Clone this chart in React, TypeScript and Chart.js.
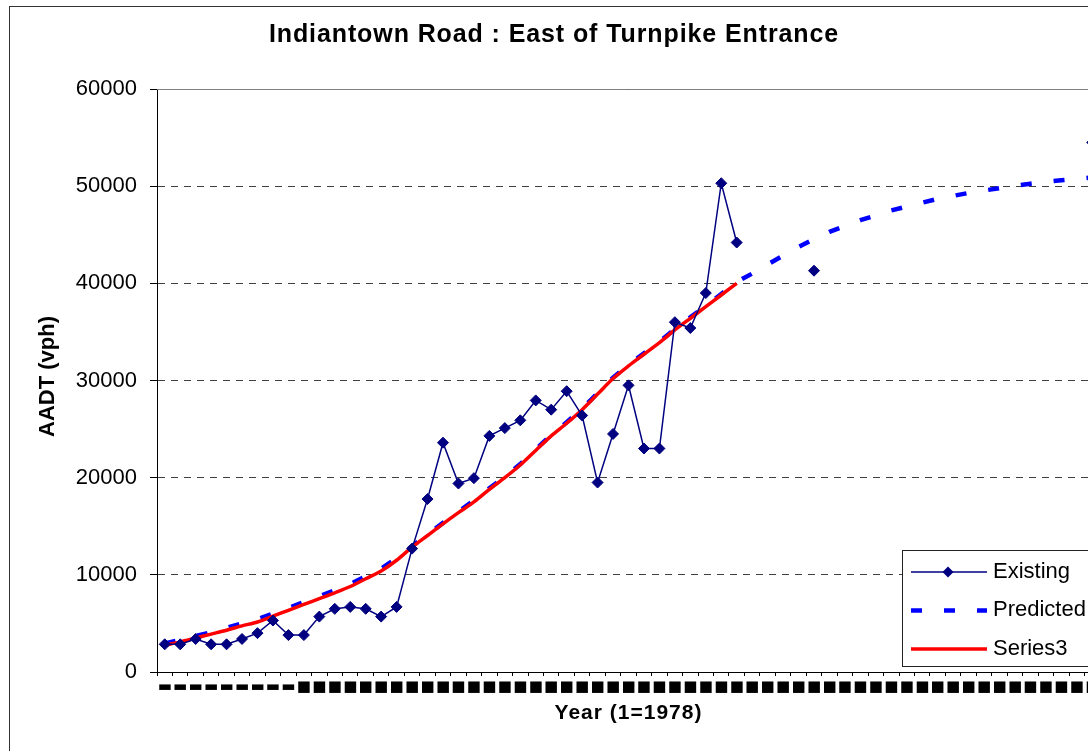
import React, { useEffect, useRef } from "react";
import { Chart, registerables } from "chart.js";

Chart.register(...registerables);

const TITLE = "Indiantown Road : East of Turnpike Entrance";
const X_TITLE = "Year (1=1978)";
const Y_TITLE = "AADT (vph)";

const years = [
  1, 2, 3, 4, 5, 6, 7, 8, 9, 10, 11, 12, 13, 14, 15, 16, 17, 18, 19, 20,
  21, 22, 23, 24, 25, 26, 27, 28, 29, 30, 31, 32, 33, 34, 35, 36, 37, 38, 39, 40,
  41, 42, 43, 44, 45, 46, 47, 48, 49, 50, 51, 52, 53, 54, 55, 56, 57, 58, 59, 60,
  61,
];

const existing = [
  2850, 2850, 3400, 2850, 2850, 3400, 4000, 5300, 3800, 3800,
  5700, 6500, 6700, 6500, 5700, 6700, 12700, 17800, 23600, 19400,
  19950, 24300, 25100, 25900, 27950, 27000, 28900, 26400, 19500, 24500,
  29500, 23000, 23000, 36000, 35400, 39000, 50300, 44200, null, null,
  null, null, 41300, null, null, null, null, null, null, null,
  null, null, null, null, null, null, null, null, null, null,
  54500,
];

const predicted = [
  2950, 3300, 3700, 4100, 4550, 5000, 5450, 6000, 6600, 7200,
  7800, 8400, 9050, 9850, 10650, 11700, 12950, 14150, 15350, 16500,
  17650, 18900, 20100, 21400, 22900, 24400, 25700, 27100, 28700, 30300,
  31600, 32800, 34000, 35300, 36500, 37700, 38900, 40150, 41000, 41950,
  42850, 43750, 44550, 45300, 45900, 46500, 47000, 47500, 47900, 48300,
  48700, 49000, 49300, 49550, 49800, 50050, 50250, 50450, 50600, 50750,
  50900,
];

const series3 = [
  2750, 3100, 3500, 3900, 4300, 4750, 5150, 5750, 6350, 6950,
  7550, 8150, 8800, 9600, 10400, 11500, 12850, 14050, 15250, 16400,
  17500, 18800, 20000, 21300, 22800, 24300, 25600, 27000, 28600, 30200,
  31500, 32700, 33900, 35200, 36400, 37600, 38800, 40000, null, null,
  null, null, null, null, null, null, null, null, null, null,
  null, null, null, null, null, null, null, null, null, null,
  null,
];

const Y_MIN = 0;
const Y_MAX = 60000;
const Y_STEP = 10000;

const FONT = '"Liberation Sans", Arial, Helvetica, sans-serif';

function drawSpaced(
  ctx: CanvasRenderingContext2D,
  text: string,
  cx: number,
  y: number,
  font: string,
  spacing: number
) {
  ctx.font = font;
  (ctx as any).letterSpacing = spacing + "px";
  const w = ctx.measureText(text).width;
  ctx.textAlign = "left";
  ctx.textBaseline = "alphabetic";
  ctx.fillText(text, cx - w / 2, y);
}

const decorPlugin = {
  id: "decor",
  beforeDraw(chart: any) {
    const ctx = chart.ctx as CanvasRenderingContext2D;
    ctx.save();
    ctx.fillStyle = "#ffffff";
    ctx.fillRect(0, 0, chart.width, chart.height);
    ctx.restore();
  },
  afterDraw(chart: any) {
    const ctx = chart.ctx as CanvasRenderingContext2D;
    const area = chart.chartArea;
    ctx.save();
    // plot area top border
    ctx.strokeStyle = "#808080";
    ctx.lineWidth = 1;
    ctx.setLineDash([]);
    ctx.beginPath();
    ctx.moveTo(area.left, Math.floor(area.top) + 0.5);
    ctx.lineTo(area.right, Math.floor(area.top) + 0.5);
    ctx.stroke();

    // outer chart border
    ctx.strokeStyle = "#333333";
    ctx.strokeRect(9.5, 6.5, 1092, 800);

    // titles
    ctx.fillStyle = "#000000";
    drawSpaced(ctx, TITLE, 554, 42.3, "bold 25px " + FONT, 0.9);
    drawSpaced(ctx, X_TITLE, (area.left + area.right) / 2, 719.3, "bold 21px " + FONT, 1.0);

    ctx.save();
    ctx.translate(54, 376.5);
    ctx.rotate(-Math.PI / 2);
    drawSpaced(ctx, Y_TITLE, 0, 0, "bold 22px " + FONT, 0);
    ctx.restore();

    // legend box
    (ctx as any).letterSpacing = "0px";
    const x0 = 902.5, y0 = 550.5, x1 = 1100.5, y1 = 666.5;
    ctx.fillStyle = "#ffffff";
    ctx.fillRect(x0, y0, x1 - x0, y1 - y0);
    ctx.strokeStyle = "#222222";
    ctx.lineWidth = 1;
    ctx.strokeRect(x0, y0, x1 - x0, y1 - y0);
    chart.data.datasets.forEach((ds: any, i: number) => {
      const base = 577.5 + i * 38.5;
      const ly = base - 5.5;
      ctx.save();
      ctx.setLineDash(ds.borderDash || []);
      ctx.lineCap = "butt";
      ctx.strokeStyle = ds.borderColor;
      ctx.lineWidth = ds.borderWidth;
      ctx.beginPath();
      ctx.moveTo(911, ly);
      ctx.lineTo(987, ly);
      ctx.stroke();
      ctx.restore();
      if (ds.pointRadius > 0) {
        const r = ds.pointRadius;
        ctx.fillStyle = ds.backgroundColor;
        ctx.beginPath();
        ctx.moveTo(948, ly - r);
        ctx.lineTo(948 + r, ly);
        ctx.lineTo(948, ly + r);
        ctx.lineTo(948 - r, ly);
        ctx.closePath();
        ctx.fill();
      }
      ctx.fillStyle = "#000000";
      ctx.font = "22px " + FONT;
      ctx.textAlign = "left";
      ctx.textBaseline = "alphabetic";
      ctx.fillText(ds.label, 993, base);
    });
    ctx.restore();
  },
};

export default function App() {
  const canvasRef = useRef<HTMLCanvasElement | null>(null);

  useEffect(() => {
    const canvas = canvasRef.current;
    if (!canvas) return;
    const chart = new Chart(canvas, {
      type: "line",
      data: {
        labels: years.map(String),
        datasets: [
          {
            label: "Existing",
            data: existing,
            borderColor: "#000080",
            backgroundColor: "#000080",
            borderWidth: 1.5,
            pointStyle: "rectRot",
            pointRadius: 5.5,
            pointBorderWidth: 1,
            pointBackgroundColor: "#000080",
            pointBorderColor: "#000080",
            spanGaps: false,
            tension: 0,
            order: 0,
          } as any,
          {
            label: "Predicted",
            data: predicted,
            borderColor: "#0000FF",
            backgroundColor: "#0000FF",
            borderWidth: 4.5,
            borderDash: [11, 22],
            borderCapStyle: "butt",
            pointRadius: 0,
            tension: 0,
            order: 2,
          } as any,
          {
            label: "Series3",
            data: series3,
            borderColor: "#FF0000",
            backgroundColor: "#FF0000",
            borderWidth: 3.5,
            pointRadius: 0,
            tension: 0.3,
            order: 1,
          } as any,
        ],
      },
      options: {
        responsive: false,
        animation: false,
        devicePixelRatio: 1,
        layout: { padding: { left: 0, top: 89, right: 10, bottom: 0 } },
        plugins: {
          legend: { display: false },
          title: { display: false },
          tooltip: { enabled: false },
        },
        scales: {
          x: {
            type: "category",
            offset: true,
            grid: {
              offset: true,
              drawOnChartArea: false,
              drawTicks: true,
              tickLength: 4,
              tickColor: "#000000",
              tickWidth: 1,
            },
            border: { color: "#000000", width: 1 },
            ticks: {
              autoSkip: false,
              maxRotation: 0,
              minRotation: 0,
              padding: 2,
              color: "#000000",
              font: { family: '"DejaVu Sans"', size: 15 },
              callback: (_v: any, i: number) => (years[i] < 10 ? "\u25AC" : "\u25A0"),
            },
            afterFit: (s: any) => {
              s.height = 79;
            },
          },
          y: {
            min: Y_MIN,
            max: Y_MAX,
            ticks: {
              stepSize: Y_STEP,
              padding: 13,
              color: "#000000",
              font: { family: FONT, size: 22 },
              callback: (v: any) => String(v),
            },
            grid: {
              color: "#404040",
              lineWidth: 1,
              drawTicks: true,
              tickLength: 7,
              tickColor: "#000000",
              tickBorderDash: [],
            },
            border: {
              color: "#000000",
              width: 1,
              dash: [7, 6],
            },
            afterFit: (s: any) => {
              s.width = 157;
            },
          },
        },
      } as any,
      plugins: [decorPlugin],
    });
    return () => chart.destroy();
  }, []);

  return (
    <div
      style={{
        position: "fixed",
        left: 0,
        top: 0,
        width: 1088,
        height: 751,
        overflow: "hidden",
        background: "#ffffff",
      }}
    >
      <canvas
        ref={canvasRef}
        width={1110}
        height={751}
        style={{ display: "block", width: 1110, height: 751 }}
      />
    </div>
  );
}
